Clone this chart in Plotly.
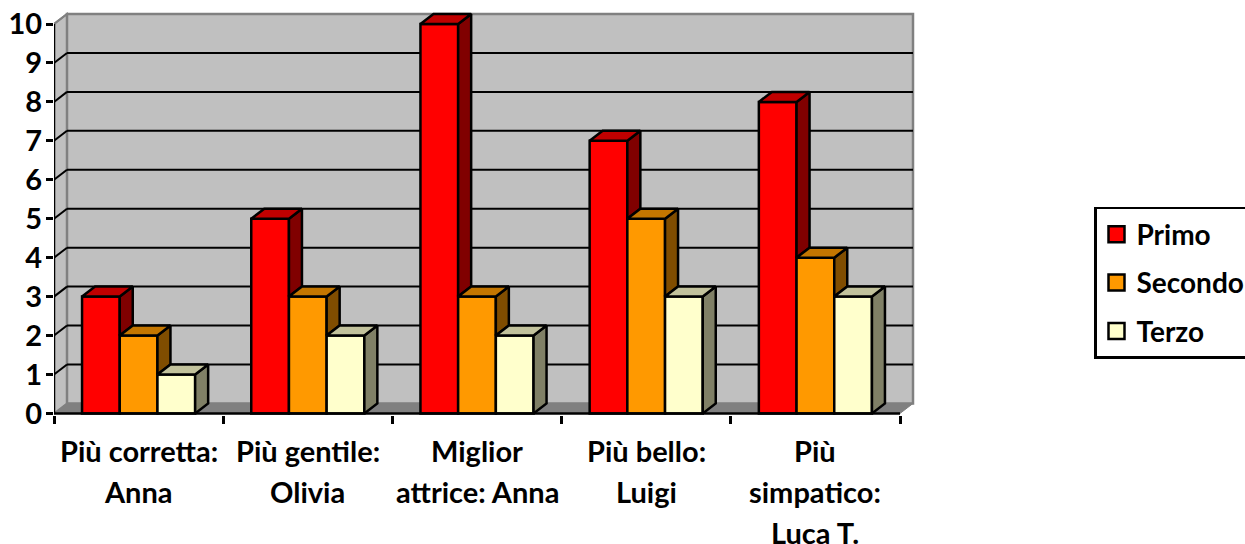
import plotly.graph_objects as go

label_lines = [
    ["Più corretta:", "Anna"],
    ["Più gentile:", "Olivia"],
    ["Miglior", "attrice: Anna"],
    ["Più bello:", "Luigi"],
    ["Più", "simpatico:", "Luca T."],
]
primo = [3, 5, 10, 7, 8]
secondo = [2, 3, 3, 5, 4]
terzo = [1, 2, 2, 3, 3]
series_names = ["Primo", "Secondo", "Terzo"]
y_ticks = list(range(11))

front = ["#FF0000", "#FF9900", "#FFFFCC"]
top = ["#C00000", "#C47600", "#C2C29C"]
side = ["#800000", "#804D00", "#808066"]
FONT = "Lato"
FS = 29
LEG_FS = 28

# layout geometry
L, R_EDGE, Y0, PX_Y = 54, 915, 413.5, 38.95
PX_X = 169.2
DX = 13 / PX_X
DY = 10 / 38.95
BAR = 37.7 / PX_X
x_rng = [-0.5, -0.5 + (R_EDGE - L) / PX_X]
y_lo, T = -0.04, 11
y_rng = [y_lo, (Y0 - T) / PX_Y]
B = 544 - (Y0 - y_lo * PX_Y)
n = len(primo)
all_vals = [primo, secondo, terzo]
xl, xr = x_rng[0], n - 0.5
EDGE = 2.5

fig = go.Figure()
shapes = []
def poly(xs, ys):
    return "M" + "L".join(f"{a},{b}" for a, b in zip(xs, ys)) + "Z"

ymax = y_ticks[-1]
# left wall, back wall, floor
shapes.append(dict(type="path", xref="x", yref="y", layer="below", fillcolor="#C0C0C0",
                   line=dict(color="#808080", width=2),
                   path=poly([xl, xl + DX, xl + DX, xl], [0, DY, ymax + DY, ymax])))
shapes.append(dict(type="rect", xref="x", yref="y", layer="below", fillcolor="#C0C0C0",
                   line=dict(color="#808080", width=2.5),
                   x0=xl + DX, x1=xr + DX, y0=DY, y1=ymax + DY))
shapes.append(dict(type="path", xref="x", yref="y", layer="below", fillcolor="#808080",
                   line=dict(color="#808080", width=1),
                   path=poly([xl, xl + DX, xr + DX, xr], [0, DY, DY, 0])))
for t in y_ticks[1:-1]:
    shapes.append(dict(type="line", xref="x", yref="y", layer="below",
                       line=dict(color="black", width=2),
                       x0=xl + DX, x1=xr + DX, y0=t + DY, y1=t + DY))
for t in y_ticks[1:-1]:
    shapes.append(dict(type="line", xref="x", yref="y", layer="below",
                       line=dict(color="black", width=2),
                       x0=xl, x1=xl + DX, y0=t, y1=t + DY))
shapes.append(dict(type="line", xref="x", yref="y", layer="below",
                   line=dict(color="#808080", width=2),
                   x0=xl, x1=xl + DX, y0=ymax, y1=ymax + DY))
# axes lines
shapes.append(dict(type="line", xref="x", yref="y", layer="above",
                   line=dict(color="black", width=2.5), x0=xl, x1=xl, y0=0, y1=ymax))
shapes.append(dict(type="line", xref="x", yref="y", layer="above",
                   line=dict(color="black", width=2.5), x0=xl, x1=xr, y0=0, y1=0))

cats = list(range(n))
# front faces
for s, vals in enumerate(all_vals):
    fig.add_trace(go.Bar(x=cats, y=vals, name=series_names[s], showlegend=False,
                         marker=dict(color=front[s], line=dict(color="black", width=EDGE))))

# depth faces
for s, vals in enumerate(all_vals):
    sx, sy, tx, ty = [], [], [], []
    for c in cats:
        x0 = c - 1.5 * BAR + s * BAR
        x1 = x0 + BAR
        v = vals[c]
        nb = all_vals[s + 1][c] if s + 1 < len(all_vals) else 0
        tx += [x0, x0 + DX, x1 + DX, x1, x0, None]
        ty += [v, v + DY, v + DY, v, v, None]
        sx += [x1, x1 + DX, x1 + DX, x1, x1, None]
        sy += [v, v + DY, nb + DY, nb, v, None]
    for xs, ys, col in ((sx, sy, side[s]), (tx, ty, top[s])):
        fig.add_trace(go.Scatter(x=xs, y=ys, mode="lines", fill="toself", fillcolor=col,
                                 line=dict(color="black", width=EDGE), showlegend=False,
                                 hoverinfo="skip"))

# legend entries
for s, name in enumerate(series_names):
    fig.add_trace(go.Scatter(x=[None], y=[None], mode="markers", name=name,
                             legendgroup=name,
                             marker=dict(symbol="square", size=18, color=front[s],
                                         line=dict(color="black", width=2.5))))

# category labels
LINE_H = 41
annots = []
for c, lines in enumerate(label_lines):
    for i, txt in enumerate(lines):
        annots.append(dict(x=c, xref="x", y=0, yref="y", text=f"<b>{txt}</b>", showarrow=False,
                           yanchor="middle", xanchor="center", yshift=-(37 + i * LINE_H),
                           font=dict(family=FONT, size=FS, color="black")))

plot_w = R_EDGE - L
fig.update_layout(
    width=1245, height=544, autosize=False,
    margin=dict(l=L, r=1245 - R_EDGE, t=T, b=B, pad=0, autoexpand=False),
    paper_bgcolor="white", plot_bgcolor="white",
    barmode="group", bargap=1 - 3 * BAR, bargroupgap=0,
    shapes=shapes, annotations=annots,
    xaxis=dict(range=x_rng, tickmode="array", tickvals=[c - 0.5 for c in range(n + 1)],
               showticklabels=False, ticks="outside", ticklen=8, tickwidth=2.5, tickcolor="black",
               showgrid=False, zeroline=False, showline=False),
    yaxis=dict(range=y_rng, tickmode="array", tickvals=y_ticks, ticktext=[f"<b>{t}</b>" for t in y_ticks],
               ticks="outside", ticklen=7, tickwidth=2.5, tickcolor="black", ticklabelstandoff=-2,
               showgrid=False, zeroline=False, showline=False,
               tickfont=dict(family=FONT, size=FS, color="black")),
    legend=dict(x=(1094 - L) / plot_w, xanchor="left", y=(Y0 - y_lo * PX_Y - 207) / (Y0 - y_lo * PX_Y - T),
                yanchor="top", bordercolor="black", borderwidth=2.5, bgcolor="white",
                tracegroupgap=9, itemsizing="trace", itemwidth=30,
                font=dict(family=FONT, size=LEG_FS, color="black", weight="bold")),
)
fig.write_html("out.html", config=dict(displayModeBar=False),
               post_script="document.body.style.margin='0';")
